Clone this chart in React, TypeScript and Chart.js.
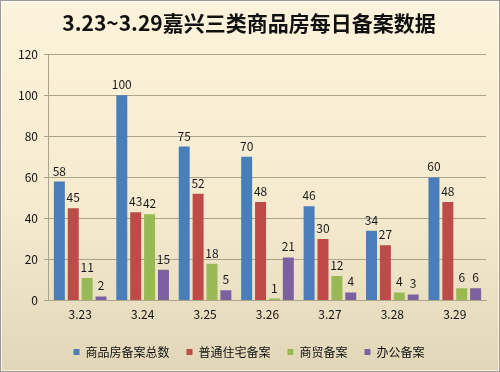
import React, { useEffect, useRef } from "react";
import { Chart, registerables } from "chart.js";

Chart.register(...registerables);

const categories = ["3.23", "3.24", "3.25", "3.26", "3.27", "3.28", "3.29"];
const totalFiled = [58, 100, 75, 70, 46, 34, 60];
const residential = [45, 43, 52, 48, 30, 27, 48];
const commercial = [11, 42, 18, 1, 12, 4, 6];
const office = [2, 15, 5, 21, 4, 3, 6];
const seriesNames = ["商品房备案总数", "普通住宅备案", "商贸备案", "办公备案"];
const titleText = "3.23~3.29嘉兴三类商品房每日备案数据";

const FONT = "'Noto Sans CJK SC', 'Noto Sans', sans-serif";

const bgPlugin = {
  id: "bgPlugin",
  beforeDraw(chart: any) {
    const { ctx, width, height } = chart;
    ctx.save();
    const g = ctx.createLinearGradient(0, 0, 0, height);
    g.addColorStop(0, "#FDF3DC");
    g.addColorStop(0.55, "#F6EBCF");
    g.addColorStop(1, "#E2D6B8");
    ctx.fillStyle = g;
    ctx.fillRect(0, 0, width, height);
    ctx.strokeStyle = "#9A9A9A";
    ctx.lineWidth = 1;
    ctx.strokeRect(0.5, 0.5, width - 1, height - 1);
    ctx.strokeStyle = "rgba(255,255,255,0.6)";
    ctx.strokeRect(1.5, 1.5, width - 3, height - 3);
    ctx.restore();
  },
};

const labelPlugin = {
  id: "labelPlugin",
  afterDatasetsDraw(chart: any) {
    const { ctx } = chart;
    ctx.save();
    ctx.font = `12px ${FONT}`;
    ctx.fillStyle = "#1a1a1a";
    ctx.textAlign = "center";
    ctx.textBaseline = "alphabetic";
    chart.data.datasets.forEach((ds: any, i: number) => {
      const meta = chart.getDatasetMeta(i);
      meta.data.forEach((bar: any, j: number) => {
        ctx.fillText(String(ds.data[j]), bar.x, bar.y - 6);
      });
    });
    ctx.restore();
  },
};

export default function App() {
  const ref = useRef<HTMLCanvasElement | null>(null);
  useEffect(() => {
    document.body.style.margin = "0";
    const colors = ["#4A7EBB", "#BE4B48", "#98B954", "#7D60A0"];
    const values = [totalFiled, residential, commercial, office];
    const chart = new Chart(ref.current as HTMLCanvasElement, {
      type: "bar",
      data: {
        labels: categories,
        datasets: values.map((v, i) => ({
          label: seriesNames[i],
          data: v,
          backgroundColor: colors[i],
          borderWidth: 0,
          categoryPercentage: 0.89,
          barPercentage: 0.79,
        })),
      },
      options: {
        animation: false,
        responsive: false,
        maintainAspectRatio: false,
        layout: { padding: { left: 12, right: 14, top: 4, bottom: 4 } },
        plugins: {
          title: {
            display: true,
            text: titleText,
            color: "#111",
            font: { family: FONT, size: 21, weight: "bold" },
            padding: { top: 6, bottom: 19 },
          },
          legend: {
            position: "bottom",
            labels: {
              boxWidth: 6,
              boxHeight: 6,
              padding: 17,
              color: "#111",
              font: { family: FONT, size: 12 },
            },
          },
          tooltip: { enabled: false },
        },
        scales: {
          x: {
            grid: { display: false, drawTicks: false },
            border: { display: true, color: "#A8A68A" },
            ticks: { color: "#111", font: { family: FONT, size: 12 }, padding: 7 },
          },
          y: {
            min: 0,
            max: 120,
            grid: { color: "#A8A68A", drawTicks: true, tickLength: 5 },
            border: { display: true, color: "#A8A68A" },
            ticks: { stepSize: 20, color: "#111", font: { family: FONT, size: 12 }, padding: 6 },
          },
        },
      },
      plugins: [bgPlugin, labelPlugin],
    });
    return () => chart.destroy();
  }, []);
  return <canvas ref={ref} width={500} height={372} style={{ display: "block" }} />;
}
